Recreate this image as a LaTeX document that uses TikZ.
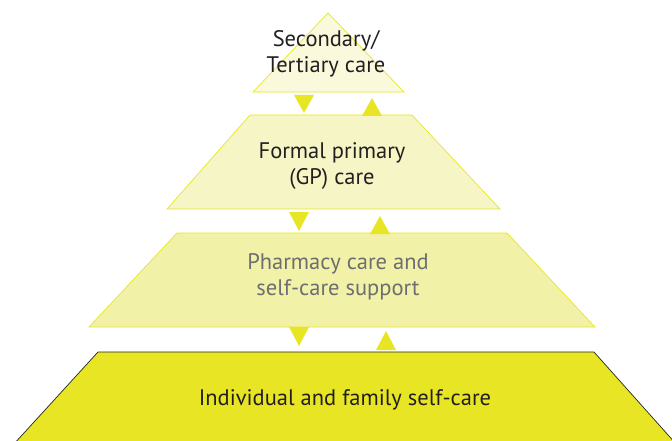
\documentclass[tikz,border=0pt]{standalone}
\usepackage{fontspec}
\setmainfont{PT Sans}
\usetikzlibrary{calc}
\definecolor{ylwstrong}{HTML}{E8E624}
\definecolor{ylwmid}{HTML}{F2F1A8}
\definecolor{ylwpale}{HTML}{F6F5C6}
\definecolor{ylwfaint}{HTML}{FAF9DC}
\definecolor{txtdark}{HTML}{231F20}
\definecolor{txtgrey}{HTML}{6D6E71}

\begin{document}
\begin{tikzpicture}[x=1pt,y=-1pt,
    layer/.style={draw=ylwstrong,line width=0.7pt},
    lbl/.style={align=center,font=\fontsize{22.5}{26}\selectfont,text=txtdark},
    tip/.style={fill=ylwstrong}]
    \clip (0,0) rectangle (672,441);
    % levels of care, top to bottom
    \draw[layer,fill=ylwfaint] (328,13)--(404,92)--(253,92)--cycle;
    \draw[layer,fill=ylwpale] (250,115)--(412,115)--(500,209)--(167,209)--cycle;
    \draw[layer,fill=ylwmid] (177,233)--(507,233)--(595,327)--(89,327)--cycle;
    \draw[draw=black!85,line width=0.7pt,fill=ylwstrong] (98,352)--(594,352)--(677,445)--(13,445)--cycle;
    % referral arrows between levels
    \foreach \cx/\ya/\yb in {304/95/113, 299/212/231, 299/327/346, 372/116/98, 380/234/216, 386/350/331}
        \fill[tip] (\cx-10,\ya)--(\cx+10,\ya)--(\cx,\yb)--cycle;
    \node[lbl] (tertiary) at (326,54) {Secondary/\\Tertiary care};
    \node[lbl] (primary) at (332,166) {Formal primary\\(GP) care};
    \node[lbl,text=txtgrey] (pharmacy) at (338,277) {Pharmacy care and\\self-care support};
    \node[lbl] (selfcare) at (345,400) {Individual and family self-care};
\end{tikzpicture}
\end{document}
